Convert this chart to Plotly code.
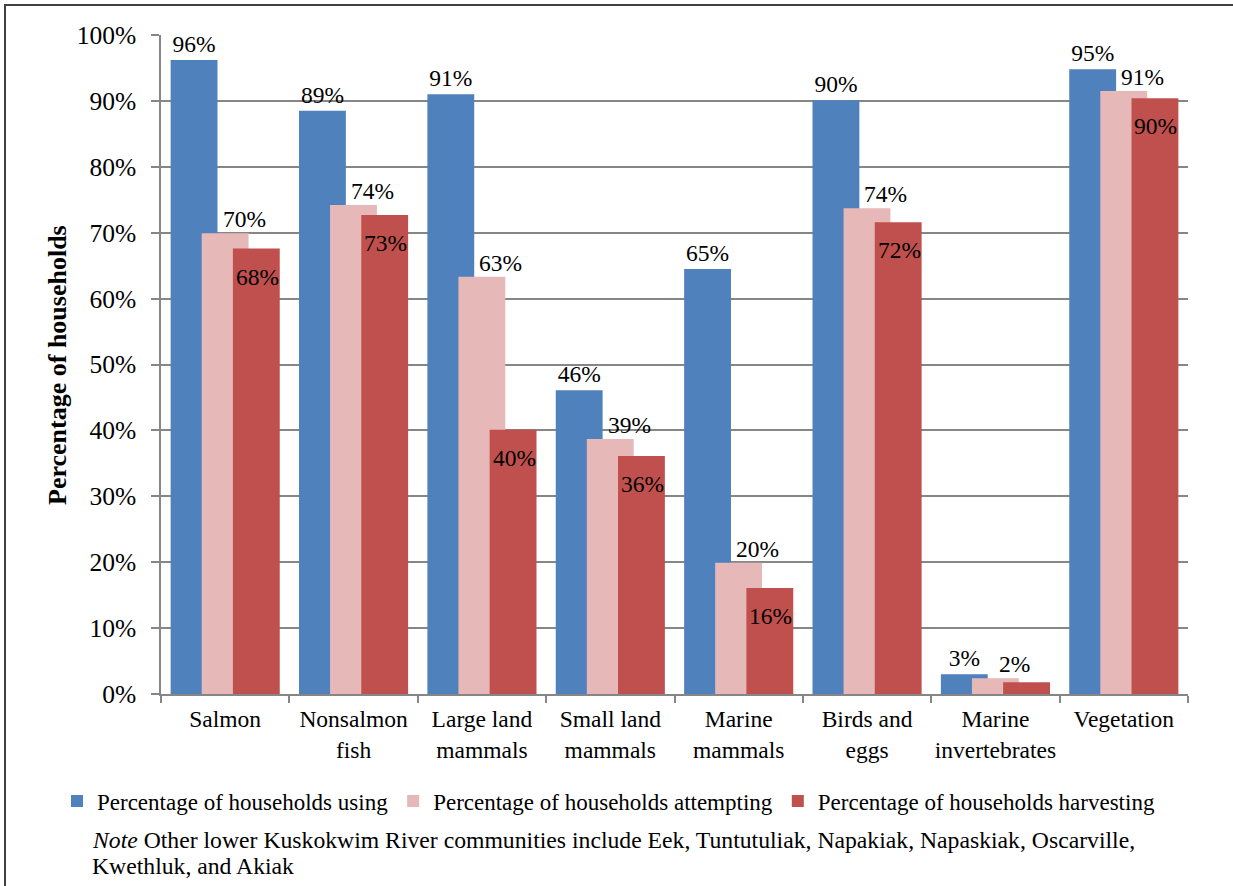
import plotly.graph_objects as go

categories = ["Salmon", "Nonsalmon<br>fish", "Large land<br>mammals", "Small land<br>mammals",
              "Marine<br>mammals", "Birds and<br>eggs", "Marine<br>invertebrates", "Vegetation"]
using = [96.2, 88.5, 91.0, 46.1, 64.5, 90.1, 3.0, 94.8]
attempting = [69.9, 74.2, 63.3, 38.7, 19.9, 73.7, 2.4, 91.5]
harvesting = [67.6, 72.7, 40.1, 36.1, 16.1, 71.6, 1.8, 90.4]
using_labels = ["96%", "89%", "91%", "46%", "65%", "90%", "3%", "95%"]
attempting_labels = ["70%", "74%", "63%", "39%", "20%", "74%", "2%", "91%"]
harvesting_labels = ["68%", "73%", "40%", "36%", "16%", "72%", "", "90%"]
series_names = ["Percentage of households using", "Percentage of households attempting",
                "Percentage of households harvesting"]
colors = ["#4F81BD", "#E6B9B8", "#C0504D"]
note_lines = ["<i>Note</i> Other lower Kuskokwim River communities include Eek, Tuntutuliak, Napakiak, Napaskiak, Oscarville,",
              "Kwethluk, and Akiak"]

FONT = "Liberation Serif"
W, H = 1233, 886
L, R, T, B = 161, 45, 35, 192
pw, ph = W - L - R, H - T - B

def px_x(p):
    return (p - L) / pw

def px_y(p):
    return (H - B - p) / ph

fig = go.Figure()
bw = 0.365
offsets = [-0.425, -0.183, 0.06]
LBL = dict(family=FONT, size=23.5, color="black")

fig.add_trace(go.Bar(x=categories, y=using, name=series_names[0], marker_color=colors[0],
                     width=bw, offset=offsets[0], text=using_labels, textposition="outside",
                     textangle=0, textfont=LBL, cliponaxis=False, constraintext="none"))
fig.add_trace(go.Bar(x=categories, y=attempting, name=series_names[1], marker_color=colors[1],
                     width=bw, offset=offsets[1]))
fig.add_trace(go.Bar(x=categories, y=harvesting, name=series_names[2], marker_color=colors[2],
                     width=bw, offset=offsets[2]))

fig.update_traces(marker_line_width=0)

# data labels for the attempting (shifted right, above) and harvesting (inside end) series
cat_px = pw / len(categories)
pink_shift = (offsets[1] + bw / 2) * cat_px + 19
red_shift = (offsets[2] + bw / 2) * cat_px + 1
for c, v, t in zip(categories, attempting, attempting_labels):
    if t:
        fig.add_annotation(x=c, y=v, xref="x", yref="y", text=t, showarrow=False,
                           xanchor="center", yanchor="bottom", xshift=pink_shift, yshift=-1,
                           font=LBL)
for c, v, t in zip(categories, harvesting, harvesting_labels):
    if t:
        fig.add_annotation(x=c, y=v, xref="x", yref="y", text=t, showarrow=False,
                           xanchor="center", yanchor="middle", xshift=red_shift, yshift=-28,
                           font=LBL)

fig.update_layout(
    width=W, height=H,
    margin=dict(l=L, r=R, t=T, b=B),
    barmode="overlay",
    plot_bgcolor="white", paper_bgcolor="white",
    font=dict(family=FONT, size=23.5, color="black"),
    showlegend=True,
    legend=dict(orientation="h", x=px_x(57), y=px_y(801), xanchor="left", yanchor="middle",
                font=dict(family=FONT, size=23, color="black"), itemwidth=30,
                traceorder="normal", bgcolor="rgba(0,0,0,0)"),
    xaxis=dict(showline=True, linecolor="#868686", linewidth=1.5, ticks="outside",
               tickson="boundaries", ticklen=7, tickcolor="#868686", tickwidth=1.5,
               tickfont=dict(family=FONT, size=23.5), showgrid=False, ticklabelstandoff=3,
               tickangle=0),
    yaxis=dict(range=[0, 100], dtick=10, ticksuffix="%", showline=True, linecolor="#868686",
               linewidth=1.5, ticks="outside", ticklen=8, tickcolor="#868686", tickwidth=1.5,
               showgrid=True, gridcolor="#868686", gridwidth=1.5,
               tickfont=dict(family=FONT, size=25.5), zeroline=False, ticklabelstandoff=10),
)

fig.add_annotation(text="<b>Percentage of households</b>", textangle=-90,
                   xref="paper", yref="paper", x=px_x(57), y=px_y(365),
                   xanchor="center", yanchor="middle", showarrow=False,
                   font=dict(family=FONT, size=26, color="black"))

for line, yc in zip(note_lines, [840, 866]):
    fig.add_annotation(text=line, xref="paper", yref="paper", x=px_x(90), y=px_y(yc),
                       xanchor="left", yanchor="middle", align="left", showarrow=False,
                       font=dict(family=FONT, size=23.7, color="black"))

fig.add_shape(type="rect", xref="paper", yref="paper",
              x0=px_x(5), x1=px_x(1245), y0=px_y(900), y1=px_y(5),
              line=dict(color="#404040", width=2), fillcolor="rgba(0,0,0,0)", layer="below")

fig.write_html("out.html")
